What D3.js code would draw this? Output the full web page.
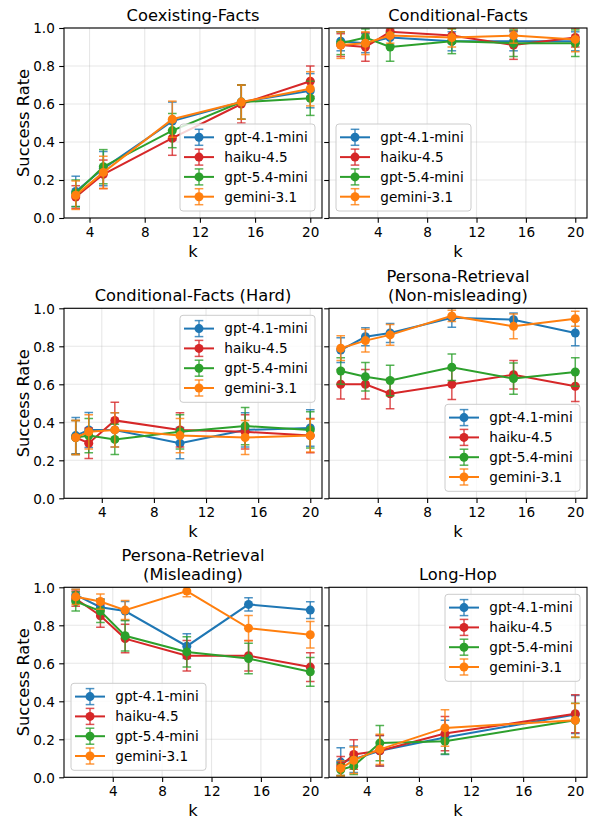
<!DOCTYPE html>
<html>
<head>
<meta charset="utf-8">
<script src="https://cdn.jsdelivr.net/npm/d3@7"></script>
<style>
html,body{margin:0;padding:0;background:#fff;}
svg{display:block;font-family:"DejaVu Sans",sans-serif;}
</style>
</head>
<body>
<svg id="chart" width="589" height="823"></svg>
<script>
// ---------- DATA ----------
const models = ["gpt-4.1-mini", "haiku-4.5", "gpt-5.4-mini", "gemini-3.1"];
const colors = ["#1f77b4", "#d62728", "#2ca02c", "#ff7f0e"];
const yTicks = [0.0, 0.2, 0.4, 0.6, 0.8, 1.0];
const xTicks = [4, 8, 12, 16, 20];

const titles = ["Coexisting-Facts", "Conditional-Facts", "Conditional-Facts (Hard)",
  "Persona-Retrieval\n(Non-misleading)", "Persona-Retrieval\n(Misleading)", "Long-Hop"];

// Coexisting-Facts
const coexK = [3, 5, 10, 15, 20];
const coexVals = [
  [0.14, 0.26, 0.51, 0.61, 0.67],
  [0.11, 0.23, 0.42, 0.60, 0.72],
  [0.13, 0.27, 0.46, 0.61, 0.63],
  [0.12, 0.24, 0.52, 0.61, 0.68]];
const coexErr = [
  [0.08, 0.09, 0.10, 0.09, 0.09],
  [0.06, 0.075, 0.09, 0.10, 0.08],
  [0.07, 0.09, 0.09, 0.09, 0.09],
  [0.075, 0.085, 0.095, 0.09, 0.09]];

// Conditional-Facts
const condK = [1, 3, 5, 10, 15, 20];
const condVals = [
  [0.93, 0.92, 0.95, 0.93, 0.93, 0.93],
  [0.91, 0.90, 0.98, 0.96, 0.91, 0.95],
  [0.92, 0.95, 0.90, 0.93, 0.92, 0.92],
  [0.91, 0.92, 0.96, 0.95, 0.96, 0.94]];
const condErr = [
  [0.05, 0.05, 0.04, 0.05, 0.05, 0.05],
  [0.06, 0.075, 0.03, 0.04, 0.075, 0.05],
  [0.06, 0.045, 0.075, 0.065, 0.07, 0.07],
  [0.07, 0.06, 0.04, 0.05, 0.04, 0.065]];

// Conditional-Facts (Hard)
const hardK = [2, 3, 5, 10, 15, 20];
const hardVals = [
  [0.33, 0.36, 0.36, 0.29, 0.36, 0.37],
  [0.32, 0.29, 0.41, 0.36, 0.35, 0.33],
  [0.32, 0.33, 0.31, 0.35, 0.38, 0.36],
  [0.32, 0.35, 0.36, 0.33, 0.32, 0.33]];
const hardErr = [
  [0.095, 0.092, 0.09, 0.082, 0.09, 0.096],
  [0.09, 0.08, 0.096, 0.09, 0.09, 0.09],
  [0.09, 0.09, 0.08, 0.09, 0.098, 0.095],
  [0.09, 0.09, 0.09, 0.09, 0.09, 0.086]];

// Persona-Retrieval (Non-misleading)
const nonMisK = [1, 3, 5, 10, 15, 20];
const nonMisVals = [
  [0.78, 0.85, 0.87, 0.95, 0.94, 0.87],
  [0.60, 0.60, 0.55, 0.60, 0.65, 0.59],
  [0.67, 0.64, 0.62, 0.69, 0.63, 0.665],
  [0.79, 0.83, 0.86, 0.96, 0.905, 0.945]];
const nonMisErr = [
  [0.065, 0.047, 0.05, 0.05, 0.035, 0.067],
  [0.078, 0.078, 0.079, 0.08, 0.075, 0.08],
  [0.07, 0.075, 0.08, 0.07, 0.082, 0.075],
  [0.065, 0.06, 0.055, 0.03, 0.065, 0.04]];

// Persona-Retrieval (Misleading)
const misK = [1, 3, 5, 10, 15, 20];
const misVals = [
  [0.96, 0.895, 0.875, 0.69, 0.91, 0.88],
  [0.94, 0.85, 0.73, 0.64, 0.64, 0.58],
  [0.925, 0.875, 0.745, 0.66, 0.625, 0.555],
  [0.95, 0.925, 0.88, 0.98, 0.785, 0.75]];
const misErr = [
  [0.03, 0.045, 0.05, 0.065, 0.035, 0.044],
  [0.04, 0.06, 0.075, 0.08, 0.08, 0.076],
  [0.05, 0.06, 0.08, 0.08, 0.08, 0.076],
  [0.04, 0.04, 0.05, 0.03, 0.066, 0.07]];

// Long-Hop
const hopK = [2, 3, 5, 10, 20];
const hopVals = [
  [0.08, 0.095, 0.14, 0.21, 0.33],
  [0.06, 0.12, 0.14, 0.23, 0.335],
  [0.04, 0.06, 0.18, 0.19, 0.30],
  [0.047, 0.09, 0.147, 0.26, 0.30]];
const hopErr = [
  [0.076, 0.07, 0.08, 0.09, 0.10],
  [0.05, 0.078, 0.08, 0.09, 0.10],
  [0.03, 0.045, 0.093, 0.068, 0.09],
  [0.04, 0.07, 0.08, 0.096, 0.088]];

const panelK = [coexK, condK, hardK, nonMisK, misK, hopK];
const panelVals = [coexVals, condVals, hardVals, nonMisVals, misVals, hopVals];
const panelErr = [coexErr, condErr, hardErr, nonMisErr, misErr, hopErr];
const legendLoc = ["lower right", "lower left", "upper right", "lower right", "lower left", "upper right"];

// ---------- LAYOUT ----------
const svg = d3.select("#chart");
const colX = [[64, 322], [329, 587]];
const rowTop = [28, 308.3, 587.3];
const plotH = 190;
const FONT_TICK = 13.6, FONT_TITLE = 16.3, FONT_LABEL = 16.3, FONT_LEG = 13.6;
const R = 4.5, CAP = 4.3;
const defs = svg.append("defs");

panelK.forEach((ks, p) => {
  const col = p % 2, row = Math.floor(p / 2);
  const x0 = colX[col][0], x1 = colX[col][1];
  const top = rowTop[row], bottom = top + plotH;
  const kmin = d3.min(ks), kmax = d3.max(ks), pad = (kmax - kmin) * 0.05;
  const x = d3.scaleLinear().domain([kmin - pad, kmax + pad]).range([x0, x1]);
  const y = d3.scaleLinear().domain([0, 1]).range([bottom, top]);
  const g = svg.append("g");

  // grid
  g.append("g").selectAll("line").data(xTicks).join("line")
    .attr("x1", d => x(d)).attr("x2", d => x(d)).attr("y1", top).attr("y2", bottom)
    .attr("stroke", "#b0b0b0").attr("stroke-opacity", 0.3).attr("stroke-width", 1.1);
  g.append("g").selectAll("line").data(yTicks).join("line")
    .attr("x1", x0).attr("x2", x1).attr("y1", d => y(d)).attr("y2", d => y(d))
    .attr("stroke", "#b0b0b0").attr("stroke-opacity", 0.3).attr("stroke-width", 1.1);

  // clip
  const cid = "clip" + p;
  defs.append("clipPath").attr("id", cid).append("rect")
    .attr("x", x0).attr("y", top).attr("width", x1 - x0).attr("height", plotH);
  const data = g.append("g").attr("clip-path", `url(#${cid})`);

  panelVals[p].forEach((vals, m) => {
    const errs = panelErr[p][m];
    const pts = ks.map((k, i) => ({k, v: vals[i], e: errs[i]}));
    const sg = data.append("g");
    const eb = sg.append("g").attr("stroke", colors[m]).attr("stroke-width", 1.5).attr("stroke-opacity", 0.8);
    pts.forEach(d => {
      const cx = x(d.k), yt = y(d.v + d.e), yb = y(d.v - d.e);
      eb.append("line").attr("x1", cx).attr("x2", cx).attr("y1", yt).attr("y2", yb);
      eb.append("line").attr("x1", cx - CAP).attr("x2", cx + CAP).attr("y1", yt).attr("y2", yt);
      eb.append("line").attr("x1", cx - CAP).attr("x2", cx + CAP).attr("y1", yb).attr("y2", yb);
    });
    sg.append("path").datum(pts)
      .attr("d", d3.line().x(d => x(d.k)).y(d => y(d.v)))
      .attr("fill", "none").attr("stroke", colors[m]).attr("stroke-width", 2);
    sg.selectAll("circle").data(pts).join("circle")
      .attr("cx", d => x(d.k)).attr("cy", d => y(d.v)).attr("r", R)
      .attr("fill", colors[m]);
  });

  // axes
  const ax = g.append("g").attr("transform", `translate(0,${bottom})`)
    .call(d3.axisBottom(x).tickValues(xTicks).tickSize(4.8).tickPadding(4.6).tickFormat(d3.format("d")));
  const ay = g.append("g").attr("transform", `translate(${x0},0)`)
    .call(d3.axisLeft(y).tickValues(yTicks).tickSize(4.8).tickPadding(4.4)
      .tickFormat(col === 0 ? d3.format(".1f") : () => ""));
  [ax, ay].forEach(a => {
    a.select(".domain").remove();
    a.selectAll(".tick line").attr("stroke", "#000").attr("stroke-width", 1.1);
    a.selectAll(".tick text").attr("fill", "#000").attr("font-size", FONT_TICK)
      .attr("font-family", "DejaVu Sans");
  });
  ax.selectAll(".tick text").attr("dy", "0.71em");
  ay.selectAll(".tick text").attr("dy", "0.36em");

  // frame
  g.append("rect").attr("x", x0).attr("y", top).attr("width", x1 - x0).attr("height", plotH)
    .attr("fill", "none").attr("stroke", "#000").attr("stroke-width", 1.1);

  // x label
  g.append("text").attr("x", (x0 + x1) / 2).attr("y", bottom + 39)
    .attr("text-anchor", "middle").attr("font-size", FONT_LABEL).text("k");
  if (col === 0) {
    g.append("text").attr("transform", `translate(29,${(top + bottom) / 2}) rotate(-90)`)
      .attr("text-anchor", "middle").attr("font-size", FONT_LABEL).text("Success Rate");
  }

  // title
  const lines = titles[p].split("\n");
  lines.forEach((ln, i) => {
    g.append("text").attr("x", (x0 + x1) / 2)
      .attr("y", top - 7.5 - (lines.length - 1 - i) * 18.5)
      .attr("text-anchor", "middle").attr("font-size", FONT_TITLE).text(ln);
  });

  // legend
  const LW = 135, LH = 87, inset = 7;
  const loc = legendLoc[p];
  const lx = loc.includes("right") ? x1 - inset - LW : x0 + inset;
  const ly = loc.includes("upper") ? top + inset : bottom - inset - LH;
  const lg = g.append("g").attr("transform", `translate(${lx},${ly})`);
  lg.append("rect").attr("width", LW).attr("height", LH).attr("rx", 3)
    .attr("fill", "#fff").attr("fill-opacity", 0.8).attr("stroke", "#cccccc").attr("stroke-width", 1);
  models.forEach((name, m) => {
    const cy = 13.3 + m * 19.8;
    const e = lg.append("g");
    e.append("line").attr("x1", 19).attr("x2", 19).attr("y1", cy - 8).attr("y2", cy + 8)
      .attr("stroke", colors[m]).attr("stroke-width", 1.5).attr("stroke-opacity", 0.8);
    [cy - 8, cy + 8].forEach(yy => e.append("line").attr("x1", 19 - CAP).attr("x2", 19 + CAP)
      .attr("y1", yy).attr("y2", yy).attr("stroke", colors[m]).attr("stroke-width", 1.5).attr("stroke-opacity", 0.8));
    e.append("line").attr("x1", 4).attr("x2", 34).attr("y1", cy).attr("y2", cy)
      .attr("stroke", colors[m]).attr("stroke-width", 2);
    e.append("circle").attr("cx", 19).attr("cy", cy).attr("r", R).attr("fill", colors[m]);
    e.append("text").attr("x", 44.3).attr("y", cy).attr("dy", "0.36em")
      .attr("font-size", FONT_LEG).text(name);
  });
});
</script>
</body>
</html>
